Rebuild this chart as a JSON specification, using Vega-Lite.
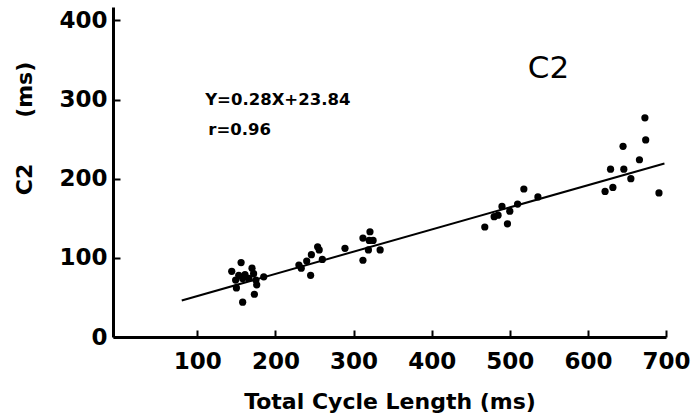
{
  "$schema": "https://vega.github.io/schema/vega-lite/v6.json",
  "width": 553,
  "height": 330,
  "autosize": {"type": "none"},
  "padding": {"left": 113, "top": 7, "right": 29, "bottom": 81},
  "background": "white",
  "config": {"view": {"stroke": null}},
  "datasets": {
    "points": [
      {"cycle": 144, "c2": 83}, {"cycle": 156, "c2": 94}, {"cycle": 153, "c2": 78}, {"cycle": 149, "c2": 72},
      {"cycle": 150, "c2": 62}, {"cycle": 158, "c2": 74}, {"cycle": 161, "c2": 79}, {"cycle": 170, "c2": 87},
      {"cycle": 172, "c2": 80}, {"cycle": 175, "c2": 72}, {"cycle": 176, "c2": 66}, {"cycle": 185, "c2": 76},
      {"cycle": 173, "c2": 54}, {"cycle": 158, "c2": 44}, {"cycle": 166, "c2": 74},
      {"cycle": 230, "c2": 91}, {"cycle": 233, "c2": 87}, {"cycle": 240, "c2": 96}, {"cycle": 246, "c2": 104},
      {"cycle": 245, "c2": 78}, {"cycle": 254, "c2": 114}, {"cycle": 256, "c2": 110}, {"cycle": 260, "c2": 98},
      {"cycle": 289, "c2": 112}, {"cycle": 312, "c2": 125}, {"cycle": 321, "c2": 133}, {"cycle": 320, "c2": 122},
      {"cycle": 319, "c2": 110}, {"cycle": 312, "c2": 97}, {"cycle": 334, "c2": 110}, {"cycle": 325, "c2": 122},
      {"cycle": 468, "c2": 139}, {"cycle": 480, "c2": 152}, {"cycle": 485, "c2": 154}, {"cycle": 490, "c2": 165},
      {"cycle": 500, "c2": 159}, {"cycle": 497, "c2": 143}, {"cycle": 510, "c2": 168}, {"cycle": 518, "c2": 187},
      {"cycle": 536, "c2": 177},
      {"cycle": 622, "c2": 184}, {"cycle": 632, "c2": 189}, {"cycle": 629, "c2": 212}, {"cycle": 646, "c2": 212},
      {"cycle": 645, "c2": 241}, {"cycle": 655, "c2": 200}, {"cycle": 666, "c2": 224}, {"cycle": 674, "c2": 249},
      {"cycle": 673, "c2": 277}, {"cycle": 691, "c2": 182}
    ],
    "fit": [{"cycle": 80, "c2": 46.2}, {"cycle": 698, "c2": 219.3}],
    "eq": [
      {"cycle": 110, "c2": 293, "label": "Y=0.28X+23.84"},
      {"cycle": 114, "c2": 255, "label": "r=0.96"}
    ],
    "panel": [{"cycle": 523, "c2": 327, "label": "C2"}]
  },
  "layer": [
    {
      "data": {"name": "points"},
      "mark": {"type": "circle", "size": 52, "color": "black", "opacity": 1},
      "encoding": {
        "x": {
          "field": "cycle", "type": "quantitative",
          "scale": {"domain": [-8, 700], "nice": false, "zero": false},
          "axis": {
            "title": "Total Cycle Length (ms)",
            "values": [100, 200, 300, 400, 500, 600, 700],
            "grid": false, "labelFlush": false, "labelOverlap": false,
            "domainColor": "black", "domainWidth": 3,
            "tickColor": "black", "tickWidth": 2, "tickSize": -7,
            "labelFont": "DejaVu Sans", "labelFontWeight": "bold", "labelFontSize": 23,
            "labelColor": "black", "labelPadding": 20,
            "titleFont": "DejaVu Sans", "titleFontWeight": "bold", "titleFontSize": 22,
            "titleColor": "black", "titlePadding": 18
          }
        },
        "y": {
          "field": "c2", "type": "quantitative",
          "scale": {"domain": [0, 417], "nice": false},
          "axis": {
            "title": "C2\u00a0\u00a0\u00a0\u00a0\u00a0\u00a0(ms)",
            "values": [0, 100, 200, 300, 400],
            "grid": false, "labelFlush": false, "labelOverlap": false,
            "domainColor": "black", "domainWidth": 3,
            "tickColor": "black", "tickWidth": 2, "tickSize": -7,
            "labelFont": "DejaVu Sans", "labelFontWeight": "bold", "labelFontSize": 23,
            "labelColor": "black", "labelPadding": 13,
            "titleFont": "DejaVu Sans", "titleFontWeight": "bold", "titleFontSize": 22,
            "titleColor": "black",
            "titleX": -89, "titleY": 121, "titleBaseline": "middle", "titleAlign": "center", "titleAngle": -90
          }
        }
      }
    },
    {
      "data": {"name": "fit"},
      "mark": {"type": "line", "color": "black", "strokeWidth": 2},
      "encoding": {
        "x": {"field": "cycle", "type": "quantitative"},
        "y": {"field": "c2", "type": "quantitative"}
      }
    },
    {
      "data": {"name": "eq"},
      "mark": {"type": "text", "align": "left", "baseline": "alphabetic", "font": "DejaVu Sans", "fontWeight": "bold", "fontSize": 16.5, "color": "black"},
      "encoding": {
        "x": {"field": "cycle", "type": "quantitative"},
        "y": {"field": "c2", "type": "quantitative"},
        "text": {"field": "label"}
      }
    },
    {
      "data": {"name": "panel"},
      "mark": {"type": "text", "align": "left", "baseline": "alphabetic", "font": "DejaVu Sans", "fontSize": 31, "color": "black"},
      "encoding": {
        "x": {"field": "cycle", "type": "quantitative"},
        "y": {"field": "c2", "type": "quantitative"},
        "text": {"field": "label"}
      }
    }
  ]
}
